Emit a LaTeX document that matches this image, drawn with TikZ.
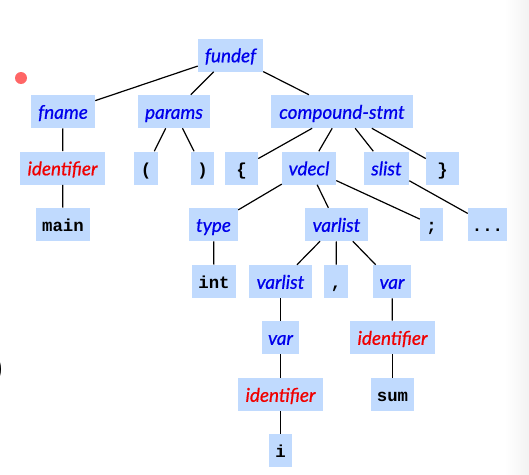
\documentclass[tikz,border=0pt]{standalone}
\usepackage{fontspec}
\setmainfont{Lato}
\newfontfamily\treeit{Lato}[FakeBold=0.7]
\newfontfamily\monofont{Liberation Mono}
\definecolor{boxblue}{RGB}{192,218,254}
\definecolor{ntblue}{RGB}{0,0,235}
\definecolor{idred}{RGB}{240,0,0}
\definecolor{dotred}{RGB}{255,102,102}
\begin{document}
\begin{tikzpicture}[x=0.75pt,y=-0.75pt,
  box/.style={fill=boxblue, inner sep=0pt, minimum height=24.75pt,
    text height=13.5pt, text depth=2.55pt},
  nt/.style={box, text=ntblue, font=\fontsize{14.2}{16}\selectfont\treeit\itshape},
  idf/.style={box, text=idred, font=\fontsize{14.2}{16}\selectfont\treeit\itshape},
  tok/.style={box, text=black, font=\fontsize{13}{15}\selectfont\monofont\bfseries},
  edge/.style={line width=0.9pt}]
\useasboundingbox (0,0) rectangle (529,475);
\shade[left color=white, right color=black!5] (505,0) rectangle (529,475);
\fill[dotred] (21,78) circle (4.5pt);
\node[font=\fontsize{20}{22}\selectfont\monofont\bfseries, anchor=east, inner sep=0pt] (lparfrag) at (6,370) {)};
% row 1
\node[nt, minimum width=48.75pt] (fundef) at (230.5,55) {fundef};
% row 2
\node[nt, minimum width=48pt] (fname) at (63,111.5) {fname};
\node[nt, minimum width=54pt] (params) at (174,111.5) {params};
\node[nt, minimum width=106.5pt] (cstmt) at (342,111.5) {compound-stmt};
% row 3
\node[idf, minimum width=63.75pt] (id1) at (62.5,168) {identifier};
\node[tok, minimum width=18pt] (lp) at (146,168) {(};
\node[tok, minimum width=17.25pt] (rp) at (202.5,168) {)};
\node[tok, minimum width=24.75pt] (lb) at (241.5,168) {\{};
\node[nt, minimum width=40.5pt] (vdecl) at (309,168) {vdecl};
\node[nt, minimum width=33.75pt] (slist) at (386.5,168) {slist};
\node[tok, minimum width=24.75pt] (rb) at (442.5,168) {\}};
% row 4
\node[tok, minimum width=40.5pt] (main) at (63,224.5) {main};
\node[nt, minimum width=36.75pt] (type) at (213.5,224.5) {type};
\node[nt, minimum width=47.25pt] (varlist) at (336.5,224.5) {varlist};
\node[tok, minimum width=17.25pt] (semi) at (431.5,224.5) {;};
\node[tok, minimum width=29.25pt] (dots) at (487.5,224.5) {...};
% row 5
\node[tok, minimum width=33pt] (int) at (214,281.5) {int};
\node[nt, minimum width=47.25pt] (varlistb) at (280.5,281.5) {varlist};
\node[tok, minimum width=18pt] (comma) at (336,281.5) {,};
\node[nt, minimum width=28.5pt] (var) at (392,281.5) {var};
% row 6
\node[nt, minimum width=27.75pt] (varb) at (280.5,337.5) {var};
\node[idf, minimum width=63.75pt] (id3) at (392.5,337.5) {identifier};
% row 7
\node[idf, minimum width=63.75pt] (id2) at (280.5,394.5) {identifier};
\node[tok, minimum width=32.25pt] (sum) at (392.5,394.5) {sum};
% row 8
\node[tok, minimum width=17.25pt] (ivar) at (280.5,450.5) {i};
% edges
\draw[edge] (fundef) -- (fname);
\draw[edge] (fundef) -- (params);
\draw[edge] (fundef) -- (cstmt);
\draw[edge] (fname) -- (id1);
\draw[edge] (id1) -- (main);
\draw[edge] (params) -- (lp);
\draw[edge] (params) -- (rp);
\draw[edge] (cstmt) -- (lb);
\draw[edge] (cstmt) -- (vdecl);
\draw[edge] (cstmt) -- (slist);
\draw[edge] (cstmt) -- (rb);
\draw[edge] (vdecl) -- (type);
\draw[edge] (vdecl) -- (varlist);
\draw[edge] (vdecl) -- (semi);
\draw[edge] (slist) -- (dots);
\draw[edge] (type) -- (int);
\draw[edge] (varlist) -- (varlistb);
\draw[edge] (varlist) -- (comma);
\draw[edge] (varlist) -- (var);
\draw[edge] (varlistb) -- (varb);
\draw[edge] (varb) -- (id2);
\draw[edge] (id2) -- (ivar);
\draw[edge] (var) -- (id3);
\draw[edge] (id3) -- (sum);
\end{tikzpicture}
\end{document}
